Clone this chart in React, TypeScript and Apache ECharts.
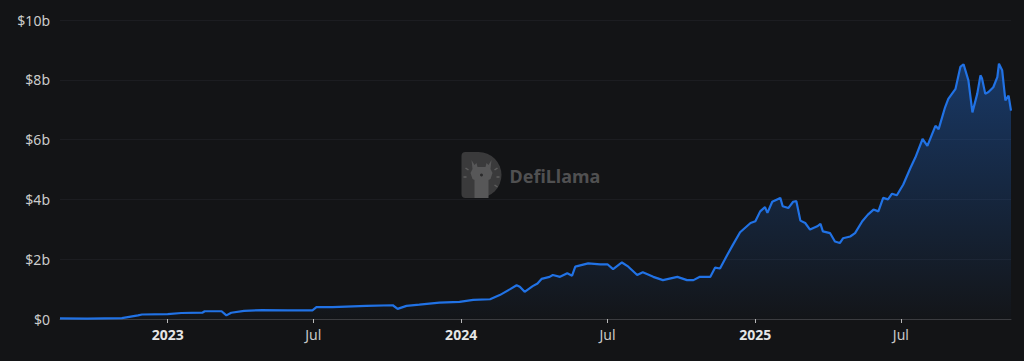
import React, { useEffect, useRef } from "react";
import * as echarts from "echarts";

const dates: string[] = [
  "2022-08-20", "2022-09-23", "2022-11-05", "2022-11-25", "2022-11-30", "2023-01-01",
  "2023-01-18", "2023-02-13", "2023-02-16", "2023-03-09", "2023-03-15", "2023-03-21",
  "2023-04-06", "2023-04-28", "2023-05-30", "2023-06-18", "2023-06-30", "2023-07-05",
  "2023-07-25", "2023-09-05", "2023-10-08", "2023-10-14", "2023-10-25", "2023-11-10",
  "2023-12-05", "2023-12-30", "2024-01-16", "2024-02-06", "2024-02-18", "2024-03-02",
  "2024-03-10", "2024-03-14", "2024-03-20", "2024-03-30", "2024-04-05", "2024-04-10",
  "2024-04-20", "2024-04-24", "2024-05-03", "2024-05-12", "2024-05-18", "2024-05-22",
  "2024-06-07", "2024-06-22", "2024-07-01", "2024-07-08", "2024-07-19", "2024-07-27",
  "2024-08-07", "2024-08-14", "2024-08-27", "2024-09-08", "2024-09-26", "2024-10-08",
  "2024-10-16", "2024-10-24", "2024-11-06", "2024-11-12", "2024-11-18", "2024-11-27",
  "2024-12-04", "2024-12-13", "2024-12-26", "2025-01-01", "2025-01-07", "2025-01-13",
  "2025-01-16", "2025-01-22", "2025-01-28", "2025-02-01", "2025-02-04", "2025-02-11",
  "2025-02-17", "2025-02-21", "2025-02-26", "2025-03-04", "2025-03-10", "2025-03-19",
  "2025-03-23", "2025-03-26", "2025-04-04", "2025-04-10", "2025-04-16", "2025-04-20",
  "2025-04-29", "2025-05-05", "2025-05-14", "2025-05-21", "2025-05-28", "2025-06-03",
  "2025-06-09", "2025-06-15", "2025-06-20", "2025-06-26", "2025-07-04", "2025-07-13",
  "2025-07-19", "2025-07-28", "2025-08-03", "2025-08-13", "2025-08-17", "2025-08-25",
  "2025-08-29", "2025-09-07", "2025-09-13", "2025-09-17", "2025-09-23", "2025-09-28",
  "2025-10-04", "2025-10-08", "2025-10-10", "2025-10-14", "2025-10-18", "2025-10-24",
  "2025-10-29", "2025-10-31", "2025-11-04", "2025-11-08", "2025-11-12", "2025-11-15",
];

// TVL in billions of USD
const tvl: number[] = [
  0.02, 0.01, 0.03, 0.12, 0.15, 0.16,
  0.2, 0.21, 0.26, 0.26, 0.12, 0.21,
  0.27, 0.3, 0.29, 0.29, 0.29, 0.4,
  0.4, 0.44, 0.46, 0.34, 0.44, 0.48,
  0.55, 0.57, 0.64, 0.66, 0.8, 1.0,
  1.13, 1.08, 0.91, 1.1, 1.19, 1.34,
  1.41, 1.47, 1.41, 1.53, 1.45, 1.75,
  1.86, 1.83, 1.83, 1.67, 1.89, 1.75,
  1.47, 1.56, 1.41, 1.3, 1.41, 1.3,
  1.3, 1.41, 1.41, 1.72, 1.69, 2.14,
  2.48, 2.9, 3.21, 3.27, 3.6, 3.74,
  3.55, 3.92, 4.0, 4.05, 3.77, 3.71,
  3.92, 3.94, 3.29, 3.21, 2.99, 3.1,
  3.18, 2.93, 2.87, 2.59, 2.54, 2.7,
  2.76, 2.87, 3.27, 3.49, 3.66, 3.6,
  4.05, 4.0, 4.19, 4.14, 4.5, 5.06,
  5.4, 6.02, 5.79, 6.46, 6.35, 7.08,
  7.36, 7.7, 8.43, 8.52, 7.98, 6.91,
  7.53, 8.15, 8.04, 7.53, 7.59, 7.75,
  8.09, 8.54, 8.32, 7.31, 7.47, 6.97,
];

const yTicks: number[] = [0, 2, 4, 6, 8, 10];
const monthNames: string[] = ["Jan", "Feb", "Mar", "Apr", "May", "Jun", "Jul", "Aug", "Sep", "Oct", "Nov", "Dec"];
const axisStart = "2022-08-20";
const axisEnd = "2025-11-15";

const DAY = 86400000;

const D_PATH = "M0,4 Q0,0 4,0 L17,0 A23,23 0 0 1 17,46 L4,46 Q0,46 0,42 Z";

echarts.graphic.registerShape("dlogo", echarts.graphic.extendPath(D_PATH, {}) as any);

export default function App() {
  const ref = useRef<HTMLDivElement>(null);

  useEffect(() => {
    document.body.style.margin = "0";
    document.body.style.background = "#131416";
    if (!ref.current) return;
    const chart = echarts.init(ref.current, undefined, { renderer: "svg" });
    const data = dates.map((d, i) => [d, tvl[i] * 1e9]);
    chart.setOption({
      animation: false,
      backgroundColor: "#131416",
      grid: { left: 60, right: 13, top: 20, bottom: 42 },
      xAxis: {
        type: "time",
        min: axisStart,
        max: axisEnd,
        minInterval: DAY * 200,
        maxInterval: DAY * 200,
        axisLine: { show: true, lineStyle: { color: "#3b3c40", width: 1 } },
        axisTick: { show: true, length: 4, lineStyle: { color: "#b8b8b8" } },
        splitLine: { show: false },
        axisLabel: {
          color: "#c8c8c8",
          fontFamily: "Noto Sans",
          fontSize: 14,
          margin: 8,
          hideOverlap: true,
          formatter: (val: number) => {
            const d = new Date(val);
            const m = d.getMonth();
            if (m === 0) return `{y|${d.getFullYear()}}`;
            return `{m|${monthNames[m]}}`;
          },
          rich: {
            y: { fontWeight: "bold", color: "#e6e6e6", fontSize: 14, fontFamily: "Noto Sans" },
            m: { color: "#c8c8c8", fontSize: 14, fontFamily: "Noto Sans" },
          },
        },
      },
      yAxis: {
        type: "value",
        min: yTicks[0] * 1e9,
        max: yTicks[yTicks.length - 1] * 1e9,
        interval: (yTicks[1] - yTicks[0]) * 1e9,
        axisLine: { show: false },
        axisTick: { show: false },
        splitLine: { show: true, lineStyle: { color: "#1c1d21", width: 1 } },
        axisLabel: {
          color: "#cccccc",
          fontFamily: "Noto Sans",
          fontSize: 14,
          margin: 10,
          formatter: (v: number) => (v === 0 ? "$0" : `$${v / 1e9}b`),
        },
      },
      graphic: [
        {
          type: "group",
          left: 461,
          top: 152,
          silent: true,
          children: [
            { type: "dlogo", x: 0, y: 0, style: { fill: "#3a3a3b" } },
            {
              type: "polygon",
              shape: {
                points: [
                  [10, 8], [13, 13], [15, 11], [16, 15], [24, 15], [25, 11], [27, 13], [30, 8],
                  [29, 17], [31, 21], [29, 27], [27, 28], [27, 46], [13, 46], [13, 28], [11, 27],
                  [9, 21], [11, 17],
                ],
              },
              style: { fill: "#575758" },
            },
            { type: "line", shape: { x1: 4, y1: 16, x2: 7, y2: 18 }, style: { stroke: "#5e5e5e", lineWidth: 1.5 } },
            { type: "line", shape: { x1: 2, y1: 25, x2: 5, y2: 25 }, style: { stroke: "#5e5e5e", lineWidth: 1.5 } },
            { type: "line", shape: { x1: 33, y1: 18, x2: 36, y2: 16 }, style: { stroke: "#5e5e5e", lineWidth: 1.5 } },
            { type: "line", shape: { x1: 35, y1: 25, x2: 38, y2: 25 }, style: { stroke: "#5e5e5e", lineWidth: 1.5 } },
            { type: "line", shape: { x1: 33, y1: 33, x2: 36, y2: 35 }, style: { stroke: "#5e5e5e", lineWidth: 1.5 } },
            { type: "circle", shape: { cx: 20, cy: 23, r: 1.5 }, style: { fill: "#2a2a2b" } },
            {
              type: "text",
              x: 48,
              y: 24,
              style: {
                text: "DefiLlama",
                fill: "#505051",
                font: "bold 18px 'Noto Sans'",
                textVerticalAlign: "middle",
              },
            },
          ],
        },
      ],
      series: [
        {
          type: "line",
          data,
          showSymbol: false,
          symbol: "none",
          lineStyle: { color: "#2172e5", width: 2.2 },
          itemStyle: { color: "#2172e5" },
          areaStyle: {
            color: new echarts.graphic.LinearGradient(0, 0, 0, 1, [
              { offset: 0, color: "rgba(33,114,229,0.55)" },
              { offset: 1, color: "rgba(33,114,229,0.02)" },
            ]),
          },
        },
      ],
    });
    return () => chart.dispose();
  }, []);

  return <div ref={ref} style={{ width: 1024, height: 361 }} />;
}
